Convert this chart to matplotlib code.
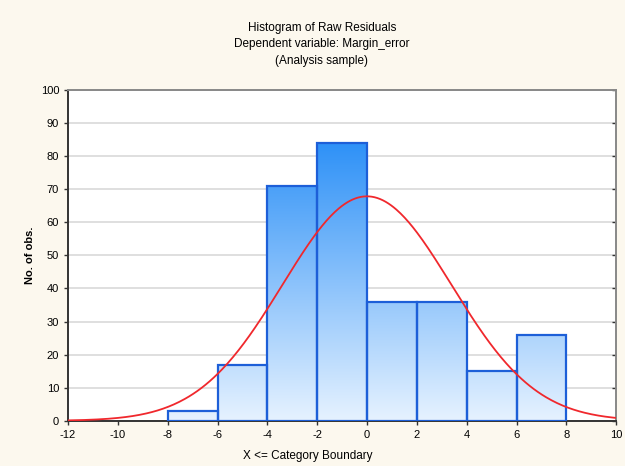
import numpy as np
import matplotlib
matplotlib.use('Agg')
import matplotlib.pyplot as plt
from matplotlib.colors import LinearSegmentedColormap

# histogram of raw residuals (bin edges and counts)
bin_edges = [-8, -6, -4, -2, 0, 2, 4, 6, 8]
counts = [3, 17, 71, 84, 36, 36, 15, 26]
x_ticks = [-12, -10, -8, -6, -4, -2, 0, 2, 4, 6, 8, 10]
y_ticks = [0, 10, 20, 30, 40, 50, 60, 70, 80, 90, 100]

plt.rcParams['font.family'] = ['Liberation Sans', 'DejaVu Sans']

fig = plt.figure(figsize=(6.25, 4.66), dpi=100, facecolor='#fcf8ee')
ax = fig.add_axes([0.109, 0.097, 0.877, 0.710])
ax.set_facecolor('white')

ax.set_xlim(-12, 10)
ax.set_ylim(0, 100)

# gradient for bars: light at bottom, saturated blue at top
cmap = LinearSegmentedColormap.from_list('bl', ['#e6f2ff', '#2a8ff7'])
grad = np.linspace(0, 1, 256).reshape(-1, 1)

for i, c in enumerate(counts):
    x0, x1 = bin_edges[i], bin_edges[i + 1]
    rect = plt.Rectangle((x0, 0), x1 - x0, c, facecolor='none',
                         edgecolor='#1d5fd8', linewidth=1.6, zorder=4)
    ax.add_patch(rect)
    im = ax.imshow(grad, extent=[-12, 10, 0, 86], origin='lower',
                   aspect='auto', cmap=cmap, zorder=3)
    im.set_clip_path(rect)

# normal fit from the grouped data
mids = np.array([(bin_edges[i] + bin_edges[i + 1]) / 2 for i in range(len(counts))])
n = np.array(counts)
N = n.sum()
mu = (mids * n).sum() / N
sd = np.sqrt(((mids - mu) ** 2 * n).sum() / N)
bw = 2
xs = np.linspace(-12, 10, 400)
ys = N * bw / (sd * np.sqrt(2 * np.pi)) * np.exp(-(xs - mu) ** 2 / (2 * sd ** 2))
ax.plot(xs, ys, color='#f0282d', linewidth=1.3, zorder=5)

ax.set_xticks(x_ticks)
ax.set_xticklabels([str(t) for t in x_ticks], fontsize=8)
ax.set_yticks(y_ticks)
ax.set_yticklabels([str(t) for t in y_ticks], fontsize=8)
ax.yaxis.grid(True, color='#d9d9d9', linewidth=1.2, zorder=0)
ax.set_axisbelow(True)
ax.tick_params(axis='both', length=3, width=1, color='#333333')
for s in ax.spines.values():
    s.set_color('#333333')
    s.set_linewidth(1.4)
ax.spines['top'].set_color('#888888')
ax.spines['right'].set_color('#888888')
ax.tick_params(axis='y', which='major', right=True, labelright=False)
for t in ax.yaxis.get_ticklines()[1::2]:
    t.set_marker(0)

# axis titles placed in figure coords, as in the original export
fig.text(0.493, 0.008, 'X <= Category Boundary', ha='center', va='bottom', fontsize=8.5)
fig.text(0.048, 0.452, 'No. of obs.', ha='center', va='center', rotation=90,
         fontsize=8, fontweight='bold')

fig.text(0.515, 0.940, 'Histogram of Raw Residuals', ha='center', va='center', fontsize=8.5)
fig.text(0.515, 0.905, 'Dependent variable: Margin_error', ha='center', va='center', fontsize=8.5)
fig.text(0.515, 0.869, '(Analysis sample)', ha='center', va='center', fontsize=8.5)

fig.savefig('out.png', dpi=100, facecolor=fig.get_facecolor())
